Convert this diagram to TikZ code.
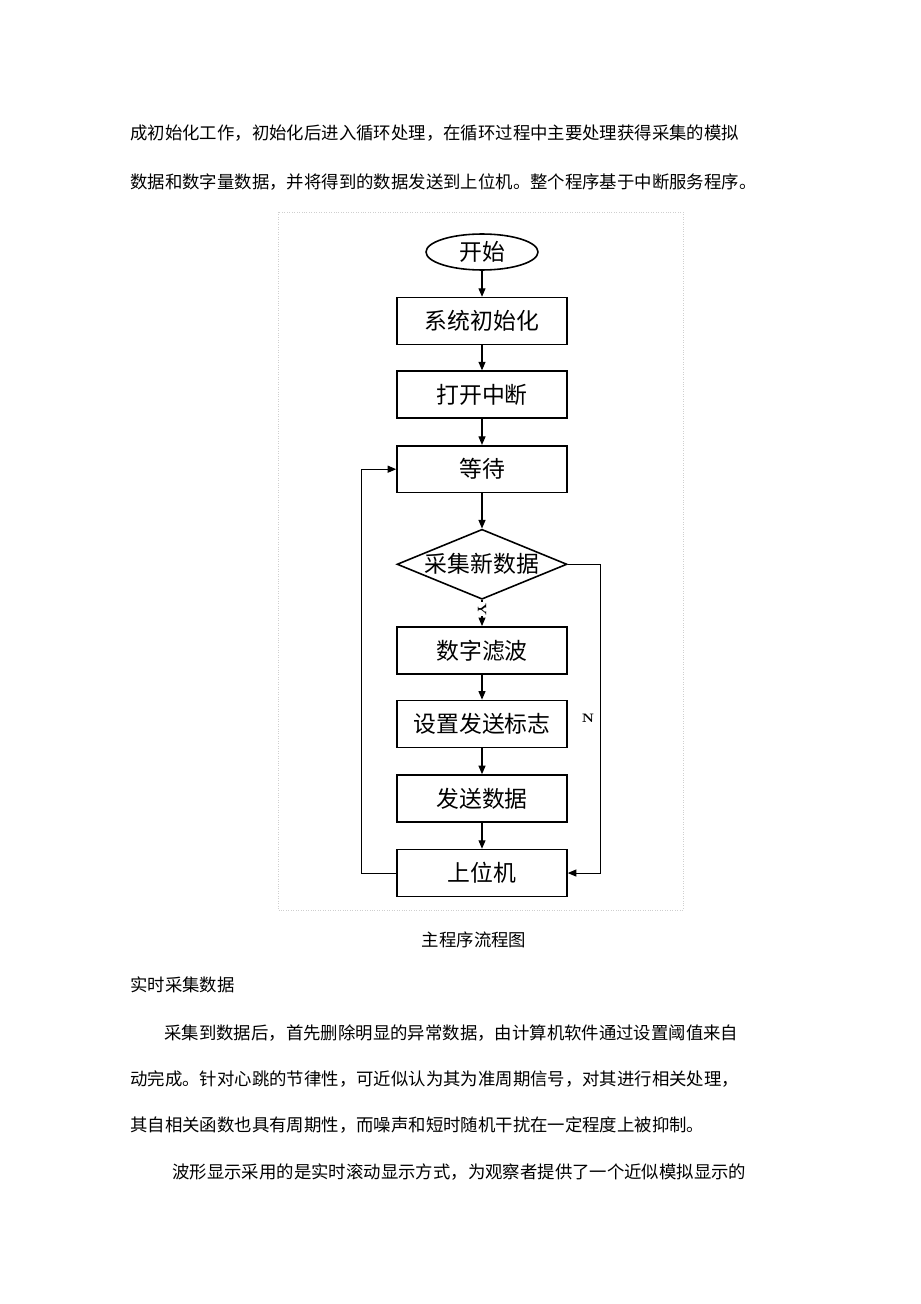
\documentclass[tikz,border=0pt]{standalone}
\usepackage{fontspec}
\usetikzlibrary{positioning,shapes.geometric,arrows.meta}
\newfontfamily\cjk{Noto Sans CJK SC}
\definecolor{framegray}{HTML}{cfcfcf}

\begin{document}
\begin{tikzpicture}[x=0.02cm, y=-0.02cm,
   procbox/.style={rectangle, draw, line width=0.9pt, minimum width=3.4cm, minimum height=0.94cm,
      font=\cjk\fontsize{13}{15}\selectfont},
   flow/.style={-{Triangle[length=1.7mm,width=1.4mm]}, line width=0.6pt},
   bodytext/.style={anchor=west, inner sep=0pt, font=\cjk\fontsize{9.9}{12}\selectfont},
   yesno/.style={inner sep=0.6pt, font=\bfseries\scriptsize}]
   \useasboundingbox (0,0) rectangle (920,1304);

   % text before the figure
   \node[bodytext] (textone) at (130,133) {成初始化工作，初始化后进入循环处理，在循环过程中主要处理获得采集的模拟};
   \node[bodytext] (texttwo) at (130,182) {数据和数字量数据，并将得到的数据发送到上位机。整个程序基于中断服务程序。};

   % frame of the figure
   \draw[framegray, densely dotted] (278,212) rectangle (683,910);

   \node[ellipse, draw, line width=0.9pt, minimum width=2.24cm, minimum height=0.72cm, inner sep=0pt,
      font=\cjk\fontsize{13}{15}\selectfont] (start) at (482,252) {开始};
   \node[procbox] (init) [below=0.52cm of start] {系统初始化};
   \node[procbox] (intr) [below=0.5cm of init] {打开中断};
   \node[procbox] (wait) [below=0.52cm of intr] {等待};
   \node[diamond, draw, line width=0.9pt, minimum width=3.4cm, minimum height=1.4cm, inner sep=0pt,
      font=\cjk\fontsize{13}{15}\selectfont] (newdata) [below=0.7cm of wait] {\makebox[0pt]{采集新数据}};
   \node[procbox] (filter) [below=0.52cm of newdata] {数字滤波};
   \node[procbox] (flag) [below=0.5cm of filter] {设置发送标志};
   \node[procbox] (send) [below=0.52cm of flag] {发送数据};
   \node[procbox] (host) [below=0.52cm of send] {上位机};

   \draw[flow] (start) -- (init);
   \draw[flow] (init) -- (intr);
   \draw[flow] (intr) -- (wait);
   \draw[flow] (wait) -- (newdata);
   \draw[flow] (newdata) -- node[pos=0.35, fill=white, yesno, rotate=-90] {Y} (filter);
   \draw[flow] (filter) -- (flag);
   \draw[flow] (flag) -- (send);
   \draw[flow] (send) -- (host);
   \draw[flow] (host.west) -- ++(-0.7cm,0) |- (wait.west);
   \draw[flow] (newdata.east) -- ++(0.66cm,0) |- (host.east);
   \node[yesno] (nlabel) at (588,718) {N};

   % text after the figure
   \node[bodytext, anchor=center] (caption) at (474,940) {主程序流程图};
   \node[bodytext] (heading) at (130,985) {实时采集数据};
   \node[bodytext] (parone) at (164,1033) {采集到数据后，首先删除明显的异常数据，由计算机软件通过设置阈值来自};
   \node[bodytext] (partwo) at (130,1079) {动完成。针对心跳的节律性，可近似认为其为准周期信号，对其进行相关处理，};
   \node[bodytext] (parthree) at (130,1125) {其自相关函数也具有周期性，而噪声和短时随机干扰在一定程度上被抑制。};
   \node[bodytext] (parfour) at (172,1172) {波形显示采用的是实时滚动显示方式，为观察者提供了一个近似模拟显示的};
\end{tikzpicture}
\end{document}
